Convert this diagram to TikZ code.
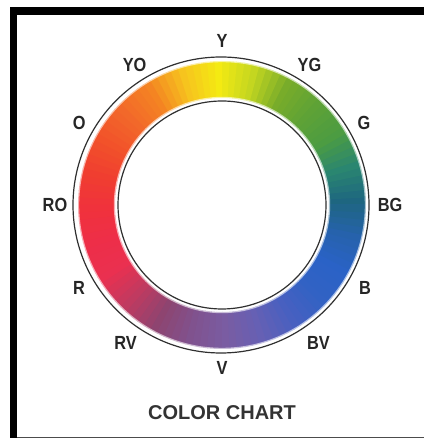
\documentclass[tikz,border=0pt]{standalone}
\usepackage{fontspec}
\setsansfont{Liberation Sans}
\usepackage{graphicx}
\usepackage{tikz}
\usepackage{xcolor}

% hue steps, every 15 degrees from BG (0) counter-clockwise
\definecolor{k0}{HTML}{1E6680}
\definecolor{k1}{HTML}{2A8670}
\definecolor{k2}{HTML}{4C9C42}
\definecolor{k3}{HTML}{5EA236}
\definecolor{k4}{HTML}{78AC2A}
\definecolor{k5}{HTML}{C4D620}
\definecolor{k6}{HTML}{F4EA12}
\definecolor{k7}{HTML}{F6C41E}
\definecolor{k8}{HTML}{F48422}
\definecolor{k9}{HTML}{F2682A}
\definecolor{k10}{HTML}{F2522A}
\definecolor{k11}{HTML}{F03E30}
\definecolor{k12}{HTML}{F0323C}
\definecolor{k13}{HTML}{EE2E48}
\definecolor{k14}{HTML}{EA3050}
\definecolor{k15}{HTML}{C03A60}
\definecolor{k16}{HTML}{8E4470}
\definecolor{k17}{HTML}{80528E}
\definecolor{k18}{HTML}{7A5CA2}
\definecolor{k19}{HTML}{6660B4}
\definecolor{k20}{HTML}{4860C0}
\definecolor{k21}{HTML}{3262C4}
\definecolor{k22}{HTML}{2A62C6}
\definecolor{k23}{HTML}{2662AC}
\definecolor{ringline}{HTML}{303030}

\newcommand{\cond}[1]{\scalebox{0.86}[1]{#1}}

\tikzset{
  lbl/.style={font=\sffamily\bfseries\fontsize{9.5}{11}\selectfont, text=black!85, inner sep=0pt},
  ttl/.style={font=\sffamily\bfseries\fontsize{10}{12}\selectfont, text=black!80, inner sep=0pt}
}

\begin{document}
\begin{tikzpicture}[x=0.5pt,y=0.5pt]
	\useasboundingbox (0,0) rectangle (424,438);
	
	% Frame
	\fill[black] (10,423) rectangle (424,431);
	\fill[black] (10,0) rectangle (17,431);
	\draw[black!70, line width=0.6pt] (17,0.5) -- (424,0.5);
	
	\begin{scope}[shift={(222,233)}]
		% Ring
		\foreach \i in {0,...,23}{
			\pgfmathtruncatemacro\j{mod(\i+1,24)}
			\foreach \k in {0,...,4}{
				\pgfmathtruncatemacro\p{100-20*\k}
				\pgfmathsetmacro\a{15*\i+3*\k}
				\fill[k\i!\p!k\j] (\a:107) -- (\a:144) arc[start angle=\a, end angle=\a+3.4, radius=144]
					-- (\a+3.4:107) arc[start angle=\a+3.4, end angle=\a, radius=107] -- cycle;
			}
		}
		\draw[white, opacity=0.6, line width=1.2pt] (0,0) circle[radius=144];
		\draw[white, opacity=0.6, line width=1.2pt] (0,0) circle[radius=107];
		
		% Outlines
		\draw[ringline, line width=0.6pt] (-1,0) circle[radius=148];
		\draw[ringline, line width=0.6pt] (0,0) circle[radius=104];
		
		% Labels
		\node[lbl] (lY)  at (90:164)  {\cond{Y}};
		\node[lbl] (lYG) at (58:165)  {\cond{YG}};
		\node[lbl] (lG)  at (30:164)  {\cond{G}};
		\node[lbl] (lBG) at (0:168)   {\cond{BG}};
		\node[lbl] (lB)  at (-30:165) {\cond{B}};
		\node[lbl] (lBV) at (-55:168) {\cond{BV}};
		\node[lbl] (lV)  at (-90:163) {\cond{V}};
		\node[lbl] (lRV) at (235:168) {\cond{RV}};
		\node[lbl] (lR)  at (210:165) {\cond{R}};
		\node[lbl] (lRO) at (180:167) {\cond{RO}};
		\node[lbl] (lO)  at (150:165) {\cond{O}};
		\node[lbl] (lYO) at (122:165) {\cond{YO}};
	\end{scope}
	
	% Title
	\node[ttl] (title) at (222,25) {COLOR CHART};
\end{tikzpicture}
\end{document}
